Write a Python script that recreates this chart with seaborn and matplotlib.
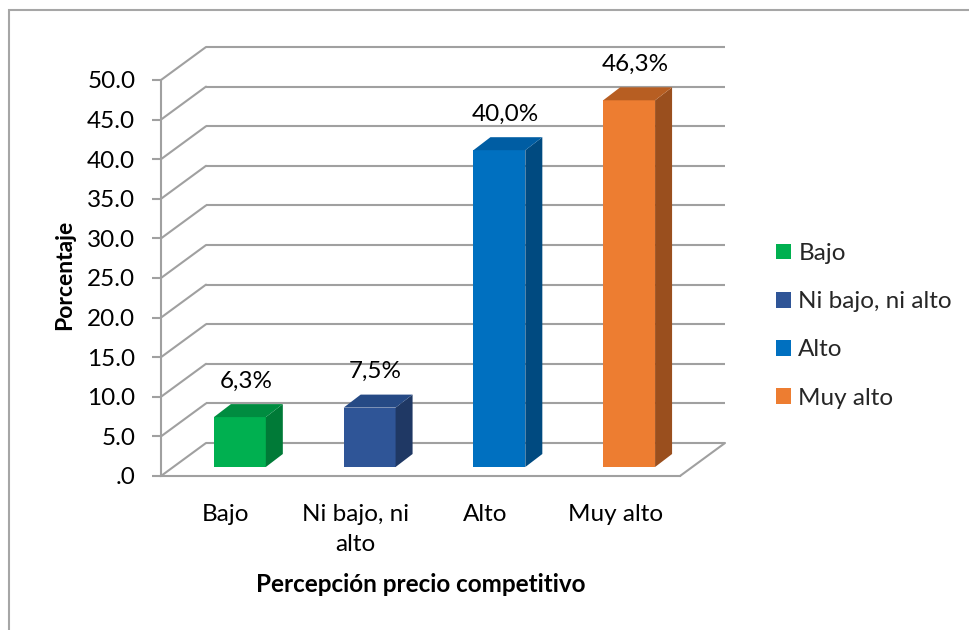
import matplotlib
matplotlib.use("Agg")
import matplotlib.pyplot as plt
import matplotlib.transforms as mtransforms
from matplotlib.patches import Polygon, Patch, Rectangle
from matplotlib.lines import Line2D
import seaborn as sns
import pandas as pd

categories = ["Bajo", "Ni bajo, ni alto", "Alto", "Muy alto"]
tick_labels = ["Bajo", "Ni bajo, ni\nalto", "Alto", "Muy alto"]
values = [6.3, 7.5, 40.0, 46.3]
value_labels = ["6,3%", "7,5%", "40,0%", "46,3%"]
y_ticks = [0, 5, 10, 15, 20, 25, 30, 35, 40, 45, 50]
y_tick_labels = [".0", "5.0", "10.0", "15.0", "20.0", "25.0", "30.0", "35.0", "40.0", "45.0", "50.0"]

front_colors = ["#00B050", "#2F5597", "#0070C0", "#ED7D31"]
side_colors = ["#007A37", "#1F3864", "#004A80", "#9A4F1E"]
top_colors = ["#008C40", "#264A85", "#005DA3", "#B75E22"]

sns.set_theme(style="white")
plt.rcParams["font.family"] = ["Lato", "DejaVu Sans"]
FS = 17.5
GRID = "#A0A0A0"
DPI = 100

fig = plt.figure(figsize=(9.7, 6.3), dpi=DPI)
W, H = 970, 630
ax = fig.add_axes([161 / W, (H - 476) / H, (680 - 161) / W, (476 - 80) / H])
ax.set_facecolor("none")

df = pd.DataFrame({"cat": categories, "val": values})
sns.barplot(data=df, x="cat", y="val", hue="cat", palette=front_colors,
            width=0.4, saturation=1, legend=False, ax=ax, zorder=3)
ax.set_xlim(-0.5, 3.5)
ax.set_ylim(0, 50)

# offsets (pixels)
bar_dx, bar_dy = 14, 9
dep_dx, dep_dy = 17, 13
wall_dx, wall_dy = 45, 33

bar_off = mtransforms.ScaledTranslation(bar_dx / DPI, bar_dy / DPI, fig.dpi_scale_trans)
back_off = mtransforms.ScaledTranslation(wall_dx / DPI, wall_dy / DPI, fig.dpi_scale_trans)
ident = mtransforms.IdentityTransform()

def px(x, y, dx=0, dy=0):
    X, Y = ax.transData.transform((x, y))
    return (X + dx, Y + dy)

# back wall gridlines and oblique side-wall lines
for yv in y_ticks:
    ax.plot([-0.5, 3.5], [yv, yv], color=GRID, lw=1.5, transform=ax.transData + back_off,
            clip_on=False, zorder=0.5, solid_capstyle="butt")
    p0 = px(-0.5, yv)
    p1 = px(-0.5, yv, wall_dx, wall_dy)
    ax.add_line(Line2D([p0[0], p1[0]], [p0[1], p1[1]], color=GRID, lw=1.5,
                       transform=ident, clip_on=False, zorder=0.5))
# floor right edge
q0 = px(3.5, 0)
q1 = px(3.5, 0, wall_dx, wall_dy)
ax.add_line(Line2D([q0[0], q1[0]], [q0[1], q1[1]], color=GRID, lw=1.5,
                   transform=ident, clip_on=False, zorder=0.5))

# 3D bars: shift front faces and add side/top faces
bars = list(ax.patches)
for i, p in enumerate(bars):
    p.set_transform(ax.transData + bar_off)
    p.set_clip_on(False)
    p.set_edgecolor("none")
    x0 = p.get_x()
    w = p.get_width()
    h = p.get_height()
    x1 = x0 + w
    side = [px(x1, 0, bar_dx, bar_dy), px(x1, h, bar_dx, bar_dy),
            px(x1, h, bar_dx + dep_dx, bar_dy + dep_dy), px(x1, 0, bar_dx + dep_dx, bar_dy + dep_dy)]
    top = [px(x0, h, bar_dx, bar_dy), px(x1, h, bar_dx, bar_dy),
           px(x1, h, bar_dx + dep_dx, bar_dy + dep_dy), px(x0, h, bar_dx + dep_dx, bar_dy + dep_dy)]
    ax.add_patch(Polygon(side, closed=True, facecolor=side_colors[i], edgecolor="none",
                         transform=ident, clip_on=False, zorder=3))
    ax.add_patch(Polygon(top, closed=True, facecolor=top_colors[i], edgecolor="none",
                         transform=ident, clip_on=False, zorder=3))
    ax.annotate(value_labels[i], xy=(i, h), xycoords="data",
                xytext=(20 * 0.72, (bar_dy + 36) * 0.72), textcoords="offset points",
                ha="center", va="center", fontsize=FS, color="black", zorder=4)

# axes styling
for s in ["top", "right"]:
    ax.spines[s].set_visible(False)
for s in ["left", "bottom"]:
    ax.spines[s].set_color(GRID)
    ax.spines[s].set_linewidth(1.5)
    ax.spines[s].set_zorder(0.6)
ax.set_yticks(y_ticks)
ax.set_yticklabels(y_tick_labels)
ax.set_xticks(range(len(categories)))
ax.set_xticklabels(tick_labels, linespacing=1.55)
ax.tick_params(axis="y", which="both", left=True, length=6.5, width=1.5, color=GRID,
               pad=12, labelsize=FS, labelcolor="black")
ax.tick_params(axis="x", which="both", bottom=False, length=0, pad=20,
               labelsize=FS, labelcolor="black")
for t in ax.get_xticklabels():
    t.set_va("top")

ax.set_xlabel("Percepción precio competitivo", fontsize=17.5, fontweight="bold", color="black")
ax.xaxis.label.set_va("center")
ax.xaxis.set_label_coords(0.5, (476 - 584) / 396)
ax.set_ylabel("Porcentaje", fontsize=16.5, fontweight="bold", color="black")
ax.yaxis.label.set_va("center")
ax.yaxis.set_label_coords((65 - 161) / 519, (476 - 275) / 396)

# legend
handles = [Patch(facecolor=c, edgecolor="none") for c in front_colors]
fig.legend(handles, categories, loc="upper left", bbox_to_anchor=(776 / W, 1 - 243 / H),
           frameon=False, fontsize=FS, borderpad=0, borderaxespad=0,
           handlelength=0.62, handleheight=0.62, handletextpad=0.3, labelspacing=1.12)

# outer chart border
fig.add_artist(Rectangle((9 / W, -0.5), 2, (1 - 10 / H) + 0.5, transform=fig.transFigure,
                         fill=False, edgecolor="#A6A6A6", lw=1.5))

fig.savefig("out.png", dpi=DPI, facecolor="white")
